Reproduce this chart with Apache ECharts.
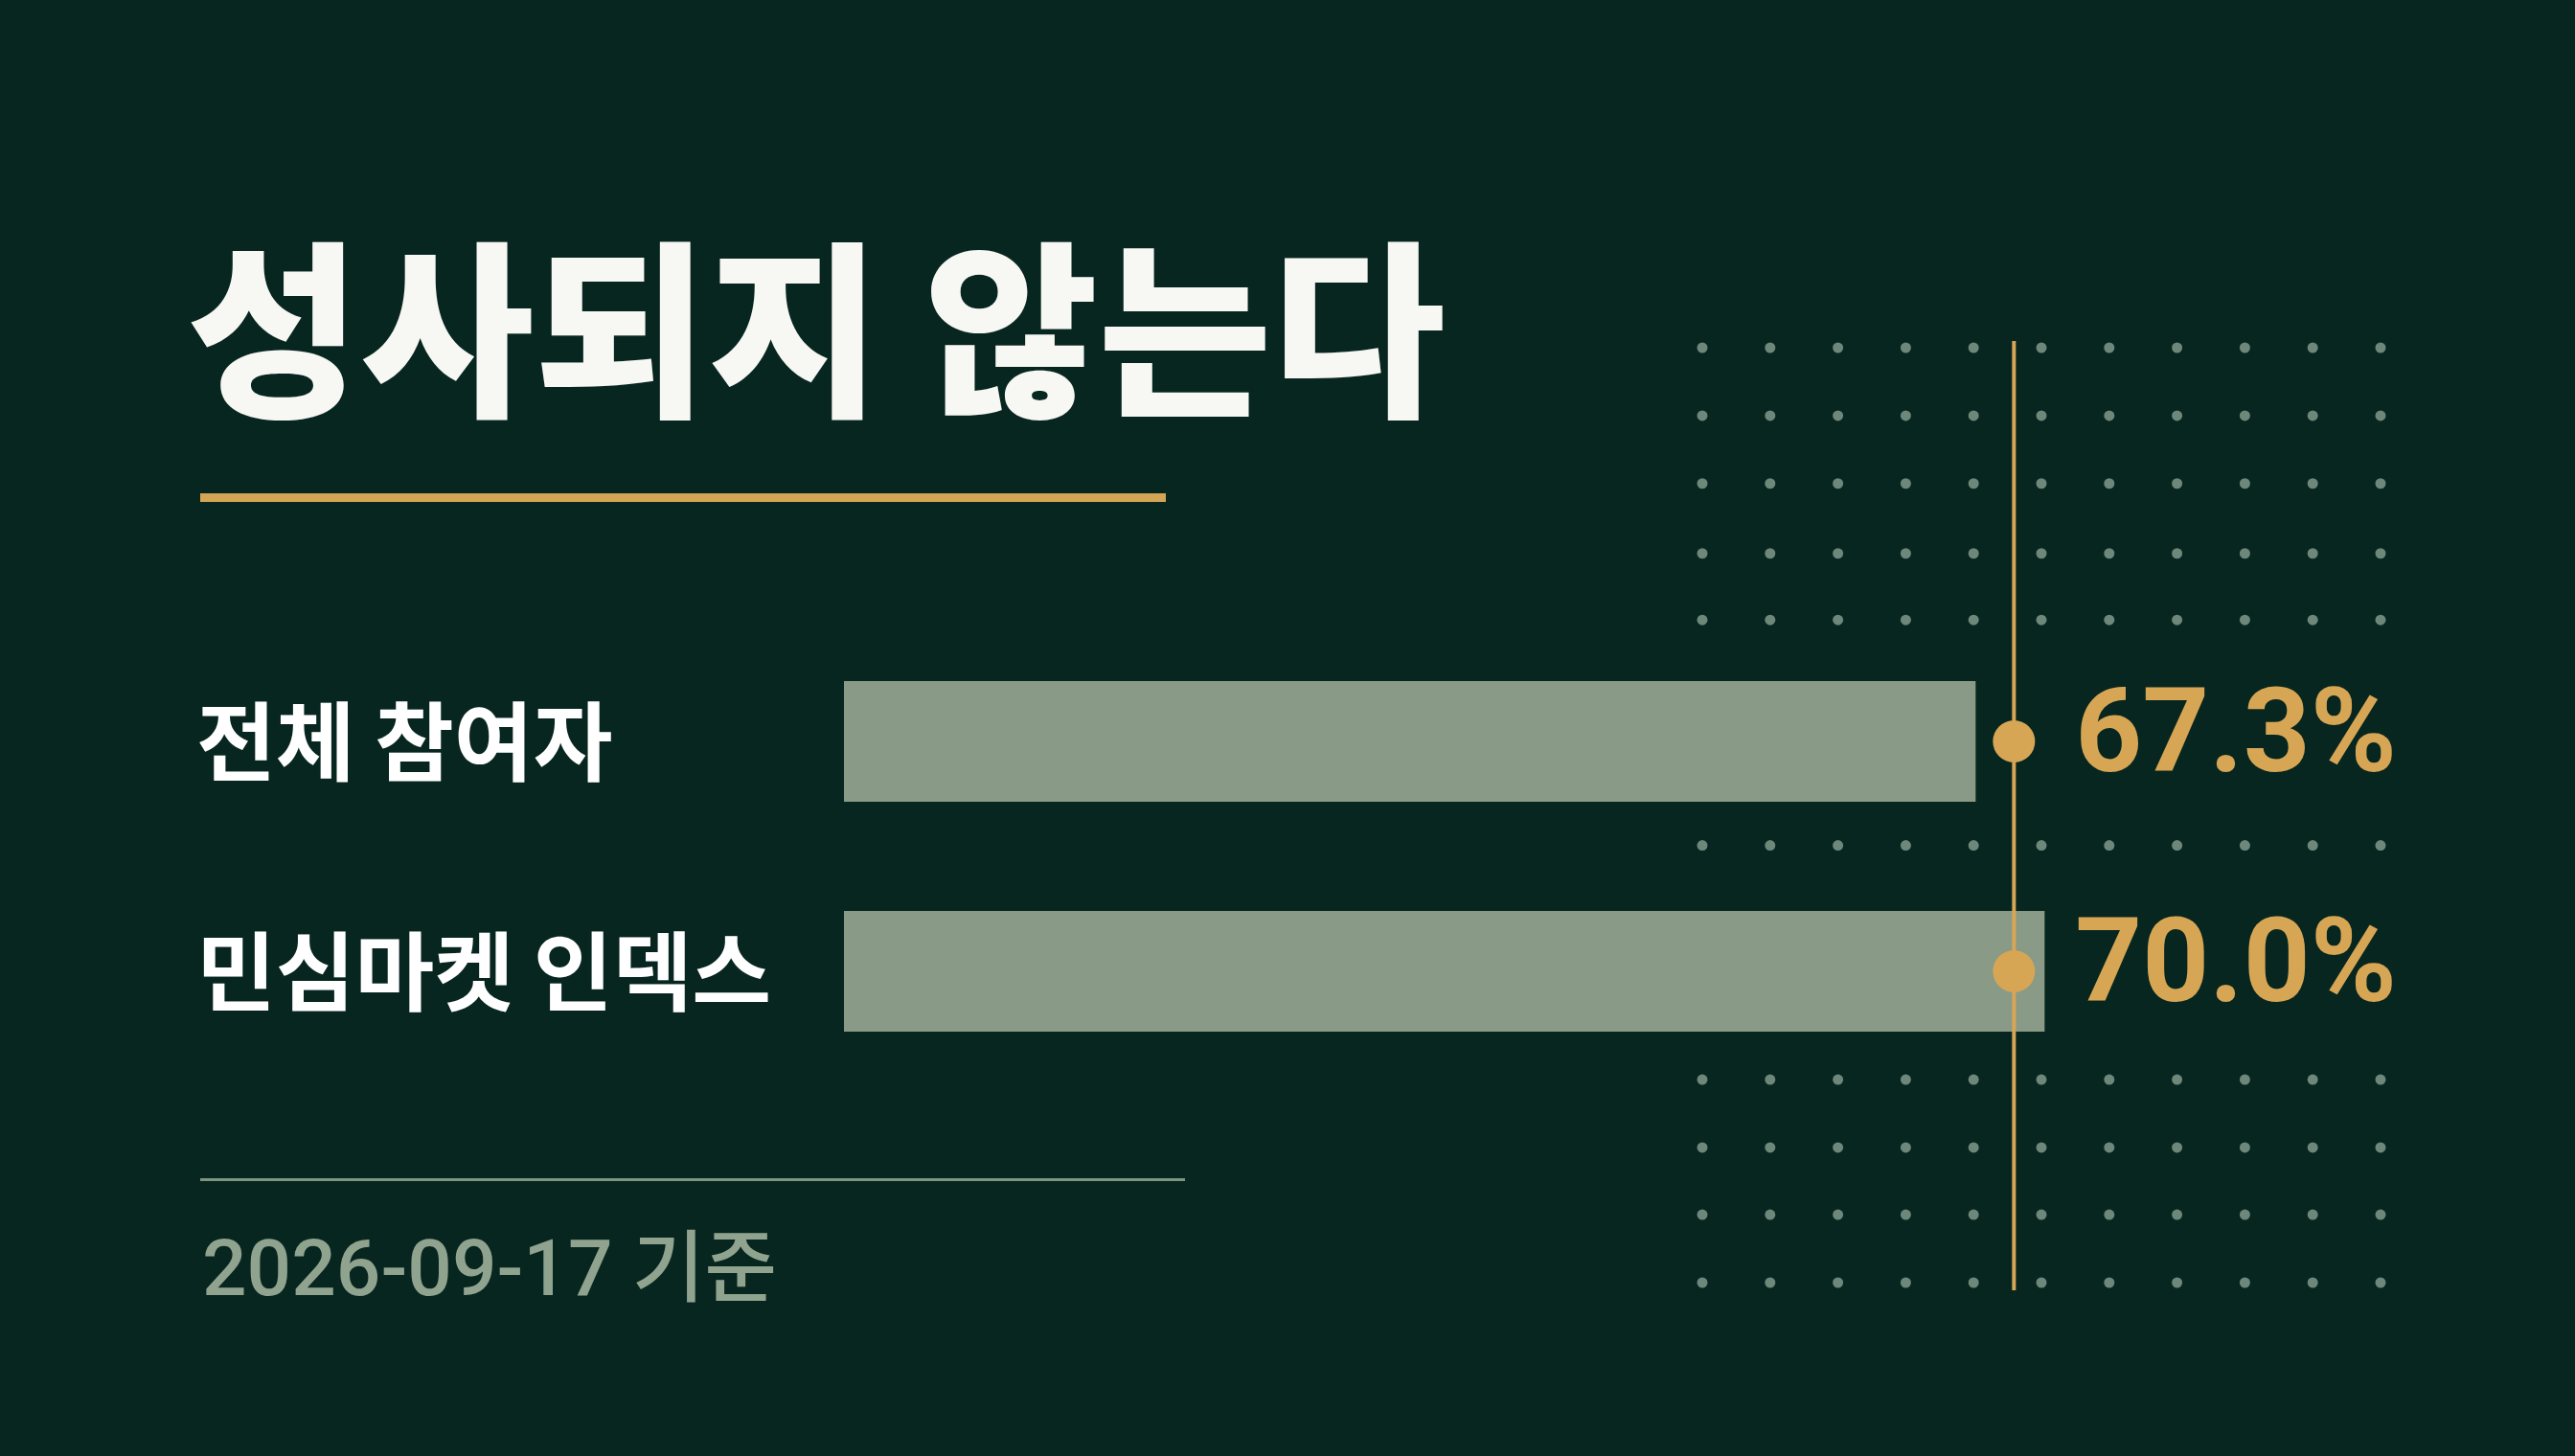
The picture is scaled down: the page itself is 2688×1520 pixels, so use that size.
<!DOCTYPE html>
<html>
<head>
<meta charset="utf-8">
<style>
  html, body { margin: 0; padding: 0; background: #082620; }
  #chart { width: 2688px; height: 1520px; }
</style>
<script src="https://cdn.jsdelivr.net/npm/echarts@6/dist/echarts.min.js"></script>
</head>
<body>
<div id="chart"></div>
<script>
// ---- data ----
const titleText = '성사되지 않는다';
const dateText = '2026-09-17 기준';
const categories = ['전체 참여자', '민심마켓 인덱스'];
const values = [67.3, 70.0];
const markerValue = 68.8;          // vertical reference line position
const dotCols = [0, 1, 2, 3, 4, 5, 6, 7, 8, 9, 10];
const dotRows = [0, 1, 2, 3.03, 4.01, 7.33, 10.78, 11.78, 12.77, 13.77];

// ---- derived tables for the library ----
const dotData = [];
dotRows.forEach(r => dotCols.forEach(c => dotData.push([c, r])));
const markerPoints = categories.map((c, i) => [markerValue, c]);

const gold = '#d6a655';
const sage = '#899a87';
const chart = echarts.init(document.getElementById('chart'), null, { renderer: 'canvas' });

chart.setOption({
  backgroundColor: '#082620',
  animation: false,
  title: [
    {
      text: titleText,
      left: 190, top: 241,
      textStyle: { color: '#f7f7f4', fontSize: 197, fontWeight: 900, fontFamily: '"Noto Sans CJK KR", sans-serif' }
    },
    {
      text: dateText,
      left: 206, top: 1285,
      textStyle: { color: '#8fa38f', fontSize: 82, fontWeight: 500, fontFamily: 'Roboto, "Noto Sans CJK KR", sans-serif' }
    }
  ],
  graphic: [
    { type: 'rect', shape: { x: 209, y: 515, width: 1008, height: 9 }, style: { fill: '#d4a554' }, z: 1 },
    { type: 'rect', shape: { x: 209, y: 1230, width: 1028, height: 3 }, style: { fill: '#7d9482' }, z: 1 }
  ],
  grid: [
    { left: 881, width: 1520, top: 654, height: 480 },   // bars
    { left: 881, width: 1520, top: 356, height: 991 },   // vertical line
    { left: 1777, width: 708, top: 363, height: 976 }    // dot pattern
  ],
  xAxis: [
    { type: 'value', gridIndex: 0, min: 23, max: 80, show: false },
    { type: 'value', gridIndex: 1, min: 23, max: 80, show: false },
    { type: 'value', gridIndex: 2, min: 0, max: 10, show: false }
  ],
  yAxis: [
    {
      type: 'category', gridIndex: 0, data: categories, inverse: true,
      axisLine: { show: false }, axisTick: { show: false }, splitLine: { show: false },
      axisLabel: {
        align: 'left', margin: 676, color: '#ffffff', fontSize: 90, fontWeight: 'bold',
        fontFamily: '"Noto Sans CJK KR", sans-serif'
      }
    },
    { type: 'value', gridIndex: 1, min: 0, max: 1, show: false },
    { type: 'value', gridIndex: 2, min: 0, max: 13.77, inverse: true, show: false }
  ],
  series: [
    {
      type: 'scatter', xAxisIndex: 2, yAxisIndex: 2, data: dotData,
      symbol: 'circle', symbolSize: 11, itemStyle: { color: '#6d887a', opacity: 1 }, silent: true, z: 1
    },
    {
      type: 'bar', xAxisIndex: 0, yAxisIndex: 0, data: values,
      barWidth: 126, itemStyle: { color: sage }, z: 2
    },
    {
      type: 'line', xAxisIndex: 1, yAxisIndex: 1,
      data: [[markerValue, 0], [markerValue, 1]],
      symbol: 'none', lineStyle: { color: gold, width: 4 }, z: 3
    },
    {
      type: 'scatter', xAxisIndex: 0, yAxisIndex: 0, data: markerPoints,
      symbol: 'circle', symbolSize: 44, itemStyle: { color: gold, opacity: 1 }, z: 4,
      label: {
        show: true, position: 'right', distance: 42, opacity: 1,
        formatter: p => values[p.dataIndex].toFixed(1) + '%',
        color: gold, fontSize: 122, fontWeight: 'bold',
        fontFamily: 'Roboto, "Noto Sans", sans-serif'
      }
    }
  ]
});
</script>
</body>
</html>
